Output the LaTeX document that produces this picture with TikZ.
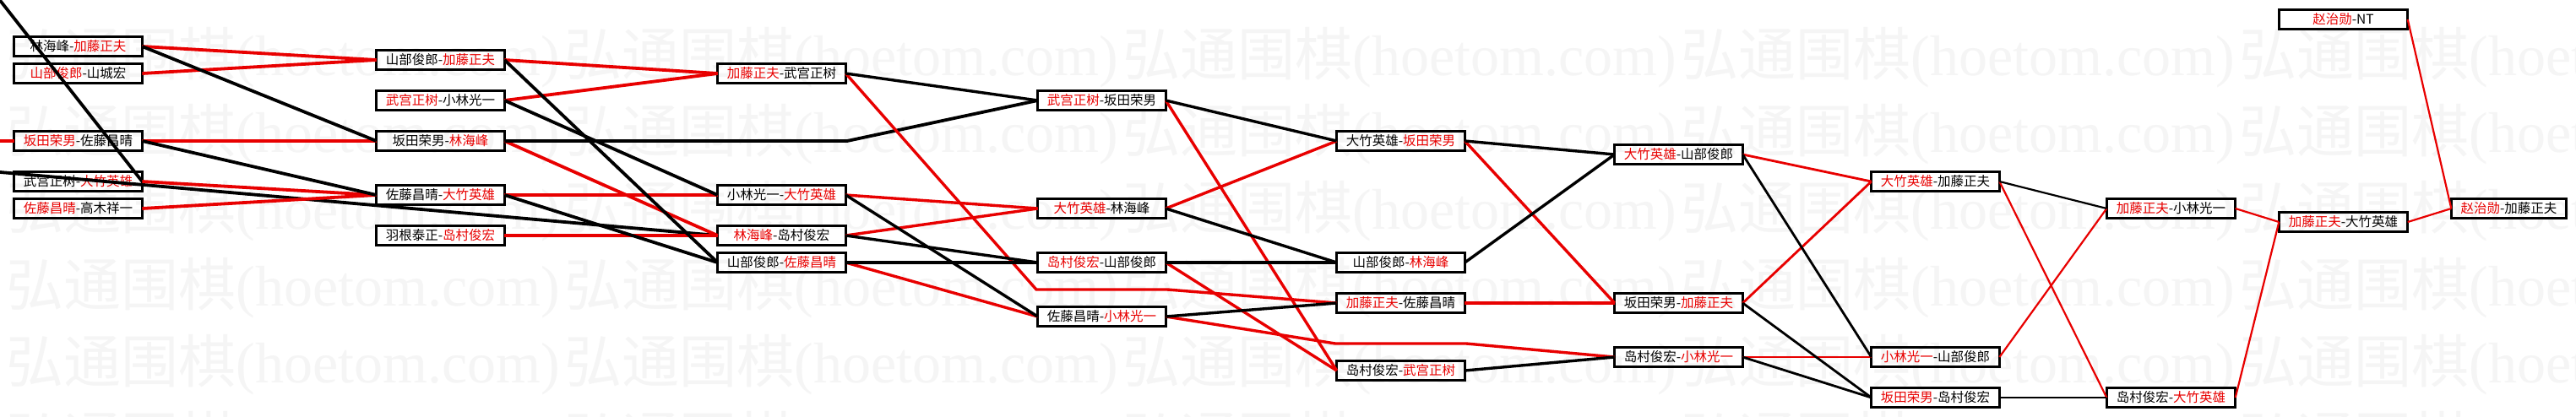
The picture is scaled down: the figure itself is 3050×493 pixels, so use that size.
\documentclass[tikz,border=0pt]{standalone}
\usepackage{fontspec}
\newfontfamily\cjk{Noto Sans CJK SC}
\newfontfamily\wmlat{Liberation Serif}
\definecolor{wred}{RGB}{232,0,0}
\definecolor{wmark}{RGB}{245,245,245}
\newcommand\rn[1]{\textcolor{wred}{#1}}
\tikzset{
  gbox/.style={draw=black, line width=1.65pt, minimum width=75.85pt, minimum height=11.35pt,
    inner sep=0pt, outer sep=0pt, font=\fontsize{7.75pt}{8pt}\cjk},
  gboxt/.style={gbox, line width=1.3pt, minimum width=76.2pt, minimum height=11.7pt},
  gboxe/.style={gboxt, minimum width=68.2pt},
  wm/.style={inner sep=0pt, text=wmark, font=\fontsize{34pt}{36pt}\cjk, anchor=base west},
  rl/.style={draw=wred},
  bl/.style={draw=black},
  wa/.style={line width=1.9pt},
  wb/.style={line width=1.7pt},
  wc/.style={line width=1.4pt},
  wd/.style={line width=1.1pt}
}
\begin{document}
\begin{tikzpicture}[x=0.5pt, y=-0.5pt]
\useasboundingbox (0,0) rectangle (3050,493);
\fill[white] (0,0) rectangle (3050,493);
% watermark
\begin{scope}
\clip (0,0) rectangle (3050,493);
\foreach \r in {89,180,271,362,453,544} {
  \foreach \k in {0,...,4} {
    \node[wm] (wm-\r-\k) at ({7+661*\k},\r) {弘通围棋{\wmlat (hoetom.com)}};
  }
}
\end{scope}
% column 1
\node[gbox] (a1) at (92.5,55)  {林海峰-\rn{加藤正夫}};
\node[gbox] (a2) at (92.5,87)  {\rn{山部俊郎}-山城宏};
\node[gbox] (a3) at (92.5,167) {\rn{坂田荣男}-佐藤昌晴};
\node[gbox] (a4) at (92.5,215) {武宫正树-\rn{大竹英雄}};
\node[gbox] (a5) at (92.5,247) {\rn{佐藤昌晴}-高木祥一};
% column 2
\node[gbox] (b1) at (521.5,71)  {山部俊郎-\rn{加藤正夫}};
\node[gbox] (b2) at (521.5,119) {\rn{武宫正树}-小林光一};
\node[gbox] (b3) at (521.5,167) {坂田荣男-\rn{林海峰}};
\node[gbox] (b4) at (521.5,231) {佐藤昌晴-\rn{大竹英雄}};
\node[gbox] (b5) at (521.5,279) {羽根泰正-\rn{岛村俊宏}};
% column 3
\node[gbox] (c1) at (925.5,87)  {\rn{加藤正夫}-武宫正树};
\node[gbox] (c2) at (925.5,231) {小林光一-\rn{大竹英雄}};
\node[gbox] (c3) at (925.5,279) {\rn{林海峰}-岛村俊宏};
\node[gbox] (c4) at (925.5,311) {山部俊郎-\rn{佐藤昌晴}};
% column 4
\node[gbox] (d1) at (1304.5,119) {\rn{武宫正树}-坂田荣男};
\node[gbox] (d2) at (1304.5,247) {\rn{大竹英雄}-林海峰};
\node[gbox] (d3) at (1304.5,311) {\rn{岛村俊宏}-山部俊郎};
\node[gbox] (d4) at (1304.5,375) {佐藤昌晴-\rn{小林光一}};
% column 5
\node[gbox] (e1) at (1658.5,167) {大竹英雄-\rn{坂田荣男}};
\node[gbox] (e2) at (1658.5,311) {山部俊郎-\rn{林海峰}};
\node[gbox] (e3) at (1658.5,359) {\rn{加藤正夫}-佐藤昌晴};
\node[gbox] (e4) at (1658.5,439) {岛村俊宏-\rn{武宫正树}};
% column 6
\node[gbox] (f1) at (1987.5,183) {\rn{大竹英雄}-山部俊郎};
\node[gbox] (f2) at (1987.5,359) {坂田荣男-\rn{加藤正夫}};
\node[gbox] (f3) at (1987.5,423) {岛村俊宏-\rn{小林光一}};
% column 7
\node[gbox] (g1) at (2291.5,215) {\rn{大竹英雄}-加藤正夫};
\node[gbox] (g2) at (2291.5,423) {\rn{小林光一}-山部俊郎};
\node[gbox] (g3) at (2291.5,471) {\rn{坂田荣男}-岛村俊宏};
% column 8
\node[gboxt] (h1) at (2570.5,247) {\rn{加藤正夫}-小林光一};
\node[gboxt] (h2) at (2570.5,471) {岛村俊宏-\rn{大竹英雄}};
% column 9
\node[gboxt] (i1) at (2774.5,23)  {\rn{赵治勋}-NT};
\node[gboxt] (i2) at (2774.5,263) {\rn{加藤正夫}-大竹英雄};
% column 10
\node[gboxe] (j1) at (2970.5,247) {\rn{赵治勋}-加藤正夫};
% bend points and off-picture ends
\coordinate (offA) at (-20,167);
\coordinate (offB) at (-20,202.2);
\coordinate (offC) at (-40,-50.6);
\coordinate (p1) at (1003,167);
\coordinate (p2) at (1227,343);
\coordinate (p3) at (1382,343);
\coordinate (p4) at (1581,407);
\coordinate (p5) at (1736,407);
% connectors
\begin{scope}
\clip (0,0) rectangle (3050,493);
\draw[rl,wa] (offA) -- (a3.west);
\draw[bl,wa] (offB) -- (c3.west);
\draw[bl,wa] (a4.east) -- (offC);
\end{scope}
% 1 -> 2
\draw[rl,wa] (a1.east) -- (b1.west);
\draw[rl,wa] (a2.east) -- (b1.west);
\draw[rl,wa] (a3.east) -- (b3.west);
\draw[rl,wa] (a4.east) -- (b4.west);
\draw[rl,wa] (a5.east) -- (b4.west);
\draw[bl,wa] (a1.east) -- (b3.west);
\draw[bl,wa] (a3.east) -- (b4.west);
% 2 -> 3
\draw[rl,wa] (b1.east) -- (c1.west);
\draw[rl,wa] (b2.east) -- (c1.west);
\draw[rl,wa] (b3.east) -- (c3.west);
\draw[rl,wa] (b4.east) -- (c2.west);
\draw[rl,wa] (b5.east) -- (c3.west);
\draw[bl,wa] (b1.east) -- (c4.west);
\draw[bl,wa] (b2.east) -- (c2.west);
\draw[bl,wa] (b3.east) -- (p1) -- (d1.west);
\draw[bl,wa] (b4.east) -- (c4.west);
% 3 -> 4
\draw[rl,wb] (c1.east) -- (p2) -- (p3) -- (e3.west);
\draw[rl,wb] (c2.east) -- (d2.west);
\draw[rl,wb] (c3.east) -- (d2.west);
\draw[rl,wb] (c4.east) -- (d4.west);
\draw[bl,wb] (c1.east) -- (d1.west);
\draw[bl,wb] (c2.east) -- (d4.west);
\draw[bl,wb] (c3.east) -- (d3.west);
\draw[bl,wb] (c4.east) -- (d3.west);
% 4 -> 5
\draw[rl,wb] (d1.east) -- (e4.west);
\draw[rl,wb] (d2.east) -- (e1.west);
\draw[rl,wb] (d3.east) -- (e4.west);
\draw[rl,wb] (d4.east) -- (p4) -- (p5) -- (f3.west);
\draw[bl,wb] (d1.east) -- (e1.west);
\draw[bl,wb] (d2.east) -- (e2.west);
\draw[bl,wb] (d3.east) -- (e2.west);
\draw[bl,wb] (d4.east) -- (e3.west);
% 5 -> 6
\draw[rl,wb] (e1.east) -- (f2.west);
\draw[rl,wb] (e3.east) -- (f2.west);
\draw[bl,wb] (e1.east) -- (f1.west);
\draw[bl,wb] (e2.east) -- (f1.west);
\draw[bl,wb] (e4.east) -- (f3.west);
% 6 -> 7
\draw[rl,wc] (f1.east) -- (g1.west);
\draw[rl,wc] (f2.east) -- (g1.west);
\draw[rl,wc] (f3.east) -- (g2.west);
\draw[bl,wc] (f1.east) -- (g2.west);
\draw[bl,wc] (f2.east) -- (g3.west);
\draw[bl,wc] (f3.east) -- (g3.west);
% 7 -> 8
\draw[rl,wd] (g1.east) -- (h2.west);
\draw[rl,wd] (g2.east) -- (h1.west);
\draw[bl,wd] (g1.east) -- (h1.west);
\draw[bl,wd] (g3.east) -- (h2.west);
% 8 -> 9 -> 10
\draw[rl,wd] (h1.east) -- (i2.west);
\draw[rl,wd] (h2.east) -- (i2.west);
\draw[rl,wd] (i1.east) -- (j1.west);
\draw[rl,wd] (i2.east) -- (j1.west);
\end{tikzpicture}
\end{document}
